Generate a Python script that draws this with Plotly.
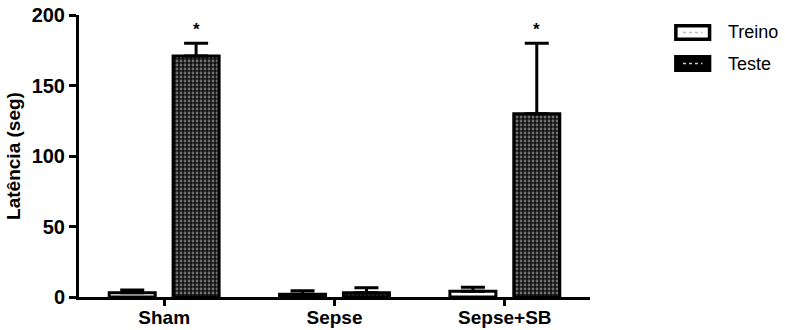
import plotly.graph_objects as go

categories = ["Sham", "Sepse", "Sepse+SB"]
treino = [3, 2, 4]
treino_err = [2, 2.5, 3]
teste = [171, 3, 130]
teste_err = [9, 3.5, 50]
y_ticks = [0, 50, 100, 150, 200]
sig_marks = ["*", "", "*"]
series_names = ["Treino", "Teste"]

FONT = "Liberation Sans, Arial, sans-serif"

fig = go.Figure()
fig.add_trace(go.Bar(
    name=series_names[0], x=categories, y=treino, showlegend=False,
    marker=dict(color="white", line=dict(color="black", width=3)),
    error_y=dict(type="data", symmetric=False, array=treino_err, arrayminus=[0]*3,
                 color="black", thickness=3, width=12),
))
fig.add_trace(go.Bar(
    name=series_names[1], x=categories, y=teste, showlegend=False,
    marker=dict(color="black", line=dict(color="black", width=3),
                pattern=dict(shape=".", fgcolor="#d0d0d0", bgcolor="#111111", size=4, solidity=0.38)),
    error_y=dict(type="data", symmetric=False, array=teste_err, arrayminus=[0]*3,
                 color="black", thickness=3, width=12),
))

for c, v, e, m in zip(categories, teste, teste_err, sig_marks):
    if m:
        fig.add_annotation(x=c, y=v + e, text=m, showarrow=False, xshift=32, yshift=14,
                           font=dict(family=FONT, size=17, color="black", weight="bold"))

# manual legend (wide rounded swatches like the reference)
leg_rows = [(0.938, "white", "#bbbbbb"), (0.828, "black", "#cccccc")]
for (yc, fill, dash_col), name in zip(leg_rows, series_names):
    fig.add_shape(type="rect", xref="paper", yref="paper",
                  x0=1.168, x1=1.234, y0=yc - 0.024, y1=yc + 0.024,
                  line=dict(color="black", width=3.5), fillcolor=fill)
    fig.add_shape(type="line", xref="paper", yref="paper",
                  x0=1.182, x1=1.220, y0=yc, y1=yc,
                  line=dict(color=dash_col, width=1.5, dash="dot"))
    fig.add_annotation(xref="paper", yref="paper", x=1.266, y=yc, text=name,
                       showarrow=False, xanchor="left", yanchor="middle",
                       font=dict(family=FONT, size=18, color="black"))

fig.update_layout(
    width=785, height=330,
    margin=dict(l=79, r=195, t=15, b=33),
    plot_bgcolor="white", paper_bgcolor="white",
    barmode="group", bargap=0.25, bargroupgap=0.28,
    font=dict(family=FONT, color="black"),
    showlegend=False,
)
fig.update_xaxes(
    showline=True, linecolor="black", linewidth=3,
    ticks="outside", ticklen=6, tickwidth=2.5, tickcolor="black",
    tickfont=dict(family=FONT, size=19, color="black", weight="bold"),
    ticklabelstandoff=-5,
    showgrid=False, range=[-0.5, 2.5], automargin=False,
)
fig.update_yaxes(
    range=[0, 200], tickvals=y_ticks,
    showline=True, linecolor="black", linewidth=3,
    ticks="outside", ticklen=7, tickwidth=2.5, tickcolor="black",
    tickfont=dict(family=FONT, size=20, color="black", weight="bold"),
    title=dict(text="Latência (seg)", font=dict(family=FONT, size=19, color="black", weight="bold"), standoff=6),
    showgrid=False, zeroline=False, automargin=False,
)
fig.write_html("out.html")
